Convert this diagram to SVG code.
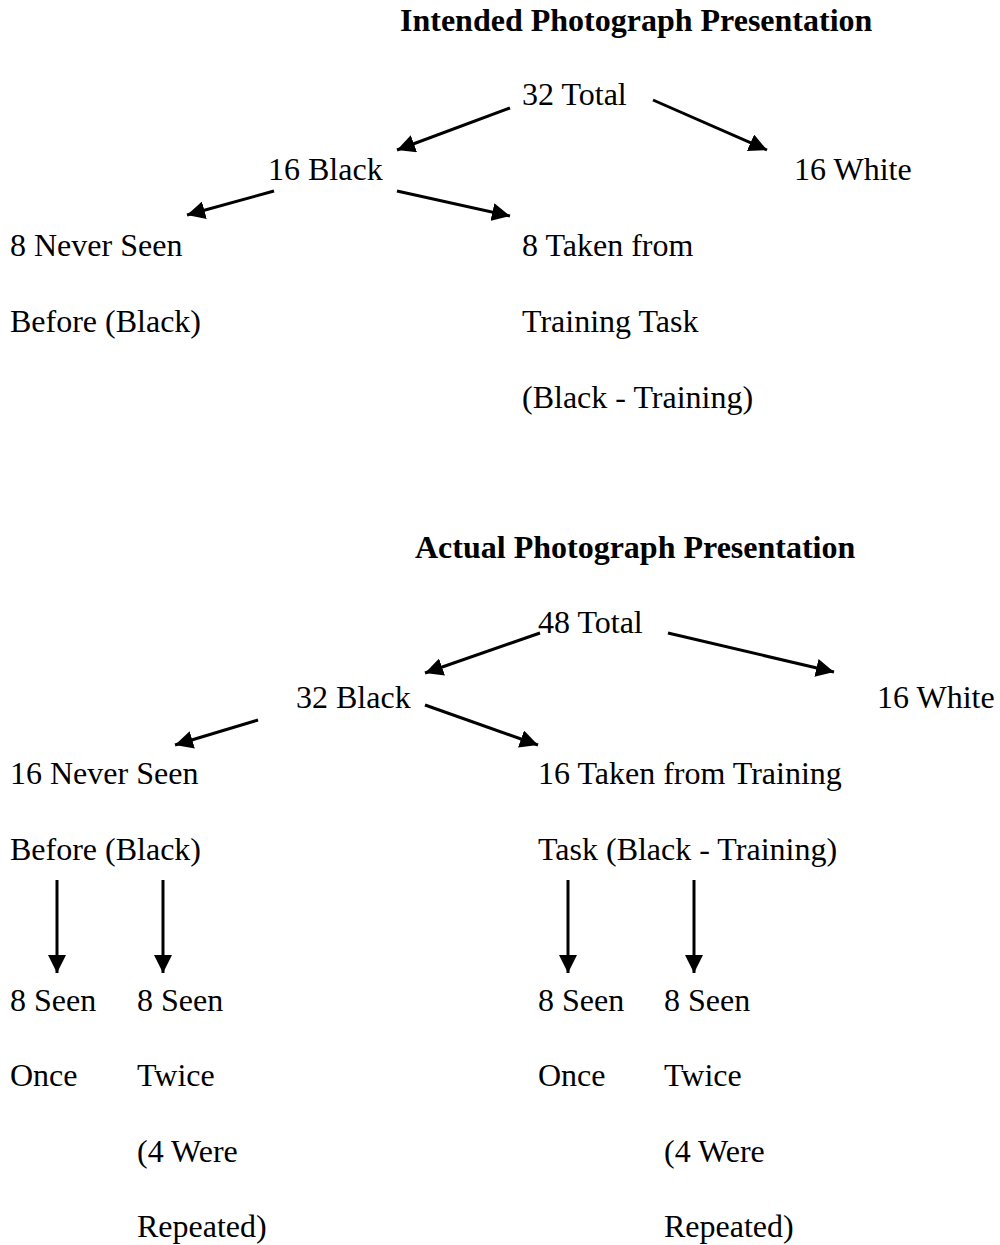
<svg xmlns="http://www.w3.org/2000/svg" width="1000" height="1245" viewBox="0 0 1000 1245">
<style>
text{font-family:"Liberation Serif","Times New Roman",serif;font-size:32px;fill:#000}
.t{font-weight:bold}
.c{stroke:#000;stroke-width:3;fill:none;marker-end:url(#ah)}
</style>
<defs>
<marker id="ah" markerUnits="userSpaceOnUse" markerWidth="20" markerHeight="18" refX="18" refY="9" orient="auto">
<path d="M0,0 L18,9 L0,18 Z" fill="#000"/>
</marker>
</defs>
<rect width="1000" height="1245" fill="#fff"/>
<g id="title1"><text class="t" x="400" y="31">Intended Photograph Presentation</text></g>
<g id="n32total"><text x="522" y="105">32 Total</text></g>
<g id="n16black"><text x="268" y="180">16 Black</text></g>
<g id="n16white"><text x="794" y="180">16 White</text></g>
<g id="n8never"><text x="10" y="256">8 Never Seen</text><text x="10" y="332">Before (Black)</text></g>
<g id="n8taken"><text x="522" y="256">8 Taken from</text><text x="522" y="332">Training Task</text><text x="522" y="408">(Black - Training)</text></g>
<g id="title2"><text class="t" x="415" y="558">Actual Photograph Presentation</text></g>
<g id="n48total"><text x="538" y="633">48 Total</text></g>
<g id="n32black"><text x="296" y="708">32 Black</text></g>
<g id="n16white2"><text x="877" y="708">16 White</text></g>
<g id="n16never"><text x="10" y="784">16 Never Seen</text><text x="10" y="860">Before (Black)</text></g>
<g id="n16taken"><text x="538" y="784">16 Taken from Training</text><text x="538" y="860">Task (Black - Training)</text></g>
<g id="a1"><text x="10" y="1011">8 Seen</text><text x="10" y="1086">Once</text></g>
<g id="a2"><text x="137" y="1011">8 Seen</text><text x="137" y="1086">Twice</text><text x="137" y="1162">(4 Were</text><text x="137" y="1237">Repeated)</text></g>
<g id="b1"><text x="538" y="1011">8 Seen</text><text x="538" y="1086">Once</text></g>
<g id="b2"><text x="664" y="1011">8 Seen</text><text x="664" y="1086">Twice</text><text x="664" y="1162">(4 Were</text><text x="664" y="1237">Repeated)</text></g>
<g id="connectors">
<line class="c" x1="510" y1="108" x2="397" y2="150"/>
<line class="c" x1="653" y1="100" x2="767" y2="150"/>
<line class="c" x1="274" y1="191" x2="187" y2="215"/>
<line class="c" x1="397" y1="191" x2="510" y2="216"/>
<line class="c" x1="540" y1="633" x2="425" y2="673"/>
<line class="c" x1="668" y1="633" x2="834" y2="672"/>
<line class="c" x1="258" y1="720" x2="175" y2="745"/>
<line class="c" x1="425" y1="705" x2="538" y2="745"/>
<line class="c" x1="57" y1="880" x2="57" y2="973"/>
<line class="c" x1="163" y1="880" x2="163" y2="973"/>
<line class="c" x1="568" y1="880" x2="568" y2="973"/>
<line class="c" x1="694" y1="880" x2="694" y2="973"/>
</g>
</svg>
